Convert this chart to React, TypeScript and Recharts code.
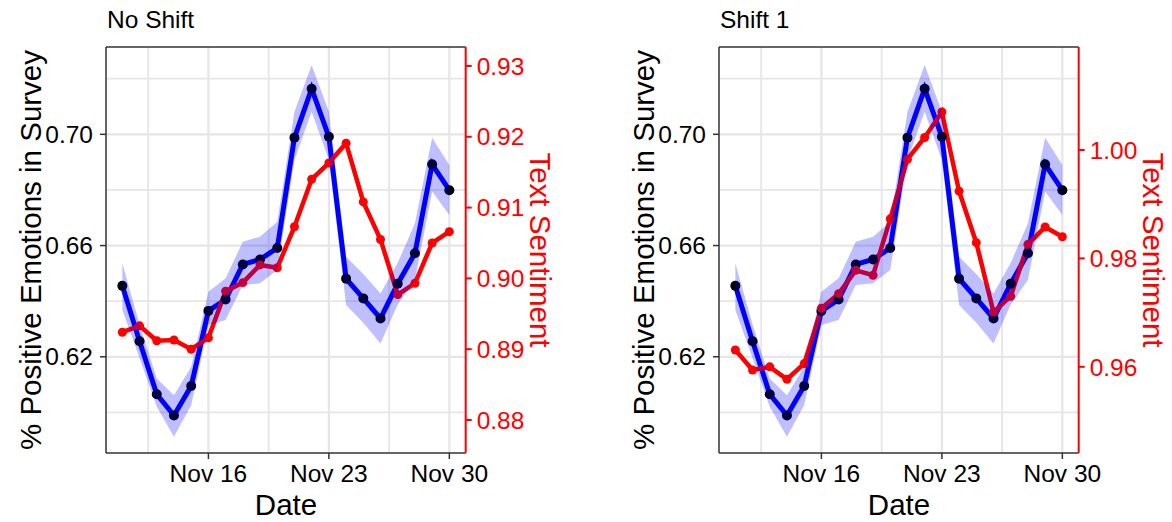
import React from 'react';
import { ComposedChart, Line, Area, XAxis, YAxis, ReferenceLine } from 'recharts';

// day of month in November
const days = [11, 12, 13, 14, 15, 16, 17, 18, 19, 20, 21, 22, 23, 24, 25, 26, 27, 28, 29, 30];

const survey = [0.6455, 0.6256, 0.6065, 0.5989, 0.6095, 0.6365, 0.6406, 0.6532, 0.655, 0.6591,
  0.6988, 0.7164, 0.6991, 0.6481, 0.641, 0.6338, 0.6463, 0.6572, 0.6892, 0.6799];
const surveyLow = [0.6368, 0.6196, 0.602, 0.5912, 0.6026, 0.6314, 0.6332, 0.6458, 0.6464, 0.6512,
  0.6908, 0.7081, 0.6908, 0.6386, 0.6322, 0.6248, 0.6388, 0.6476, 0.6794, 0.671];
const surveyHigh = [0.6536, 0.6316, 0.6122, 0.6062, 0.6164, 0.6434, 0.6482, 0.6614, 0.6632, 0.6686,
  0.7081, 0.7249, 0.7081, 0.656, 0.6498, 0.6428, 0.6538, 0.668, 0.6988, 0.689];

const textNoShift = [0.8924, 0.8933, 0.8912, 0.8913, 0.89, 0.8916, 0.8982, 0.8994, 0.9019, 0.9015,
  0.9073, 0.914, 0.9163, 0.9191, 0.9108, 0.9055, 0.8977, 0.8993, 0.905, 0.9066];
const textShift1 = [0.9631, 0.9594, 0.96, 0.9577, 0.9606, 0.9708, 0.9735, 0.9778, 0.9769, 0.9873,
  0.9983, 1.0023, 1.007, 0.9924, 0.9829, 0.9701, 0.973, 0.9826, 0.9858, 0.984];

const xTicks = [16, 23, 30];
const xMinor = [12.5, 19.5, 26.5];
const leftTicks = [0.62, 0.66, 0.7];
const leftMinor = [0.6, 0.64, 0.68, 0.72];
const rightTicksNoShift = [0.88, 0.89, 0.9, 0.91, 0.92, 0.93];
const rightTicksShift1 = [0.96, 0.98, 1.0];

const W = 560;
const H = 522;
const FONT = '"Liberation Sans", Arial, Helvetica, sans-serif';

interface PanelProps {
  title: string;
  text: number[];
  rightTicks: number[];
  rightDomain: [number, number];
  left: number;
}

const Panel: React.FC<PanelProps> = ({ title, text, rightTicks, rightDomain, left }) => {
  const data = days.map((d, i) => ({
    day: d,
    survey: survey[i],
    band: [surveyLow[i], surveyHigh[i]],
    text: text[i],
  }));
  const leftDomain: [number, number] = [0.5854, 0.7314];

  return (
    <div style={{ position: 'absolute', left, top: 0, width: W, height: H }}>
      <div style={{ position: 'absolute', left: 107, top: 8, fontSize: 24.5, lineHeight: '24px', fontFamily: FONT, color: '#000', whiteSpace: 'nowrap' }}>
        {title}
      </div>
      <ComposedChart width={W} height={H} data={data} margin={{ top: 47, right: 0, bottom: 0, left: 0 }} style={{ fontFamily: FONT }}>
        <XAxis
          dataKey="day"
          type="number"
          domain={[10.05, 30.95]}
          ticks={xTicks}
          tickFormatter={(v: number) => `Nov ${v}`}
          height={69}
          tickSize={6}
          tickMargin={6}
          tick={{ fontSize: 24.5, fill: '#000' }}
          axisLine={{ stroke: '#333', strokeWidth: 1.5 }}
          tickLine={{ stroke: '#333', strokeWidth: 1.5 }}
          label={{
            content: () => (
              <text x={286} y={515} textAnchor="middle" fontSize={29.5} fill="#000" fontFamily={FONT}>Date</text>
            ),
          }}
        />
        <YAxis
          yAxisId="left"
          orientation="left"
          domain={leftDomain}
          ticks={leftTicks}
          tickFormatter={(v: number) => v.toFixed(2)}
          width={106}
          tickSize={6}
          tickMargin={7}
          tick={{ fontSize: 24.5, fill: '#000' }}
          axisLine={{ stroke: '#333', strokeWidth: 1.5 }}
          tickLine={{ stroke: '#333', strokeWidth: 1.5 }}
          allowDataOverflow
          label={{
            content: () => (
              <text x={30} y={250} transform="rotate(-90 30 250)" textAnchor="middle" dominantBaseline="central" fontSize={29.5} fill="#000" fontFamily={FONT}>
                % Positive Emotions in Survey
              </text>
            ),
          }}
        />
        <YAxis
          yAxisId="right"
          orientation="right"
          domain={rightDomain}
          ticks={rightTicks}
          tickFormatter={(v: number) => v.toFixed(2)}
          width={W - 465.7}
          tickSize={6}
          tickMargin={5}
          tick={{ fontSize: 24.5, fill: '#ff0000' }}
          axisLine={{ stroke: '#ff0000', strokeWidth: 2 }}
          tickLine={{ stroke: '#ff0000', strokeWidth: 2 }}
          allowDataOverflow
          label={{
            content: () => (
              <text x={540} y={250} transform="rotate(90 540 250)" textAnchor="middle" dominantBaseline="central" fontSize={29.5} fill="#ff0000" fontFamily={FONT}>
                Text Sentiment
              </text>
            ),
          }}
        />

        {leftMinor.map(v => (
          <ReferenceLine key={'hm' + v} yAxisId="left" y={v} stroke="#e6e6e6" strokeWidth={1.8} zIndex={-100} />
        ))}
        {leftTicks.map(v => (
          <ReferenceLine key={'hM' + v} yAxisId="left" y={v} stroke="#e6e6e6" strokeWidth={2.2} zIndex={-100} />
        ))}
        {xMinor.map(v => (
          <ReferenceLine key={'vm' + v} yAxisId="left" x={v} stroke="#e6e6e6" strokeWidth={1.8} zIndex={-100} />
        ))}
        {xTicks.map(v => (
          <ReferenceLine key={'vM' + v} yAxisId="left" x={v} stroke="#e6e6e6" strokeWidth={2.2} zIndex={-100} />
        ))}
        <ReferenceLine yAxisId="left" y={leftDomain[1]} stroke="#333" strokeWidth={1.5} zIndex={-90} />

        <Line
          yAxisId="left"
          dataKey="survey"
          type="linear"
          stroke="#0000ff"
          strokeWidth={5}
          dot={{ r: 5, fill: '#000', stroke: 'none' }}
          activeDot={false}
          isAnimationActive={false}
          zIndex={400}
        />
        <Line
          yAxisId="right"
          dataKey="text"
          type="linear"
          stroke="#ff0000"
          strokeWidth={4.5}
          dot={{ r: 4.5, fill: '#ff0000', stroke: 'none' }}
          activeDot={false}
          isAnimationActive={false}
          zIndex={450}
        />
        <Area
          yAxisId="left"
          dataKey="band"
          type="linear"
          stroke="none"
          fill="#0000ff"
          fillOpacity={0.25}
          activeDot={false}
          isAnimationActive={false}
          zIndex={700}
        />
      </ComposedChart>
    </div>
  );
};

const App: React.FC = () => (
  <div style={{ position: 'absolute', left: 0, top: 0, width: 1172, height: 522, background: '#fff' }}>
    <Panel title="No Shift" text={textNoShift} rightTicks={rightTicksNoShift} rightDomain={[0.87534, 0.93268]} left={0} />
    <Panel title="Shift 1" text={textShift1} rightTicks={rightTicksShift1} rightDomain={[0.9441, 1.019]} left={613} />
  </div>
);

export default App;
